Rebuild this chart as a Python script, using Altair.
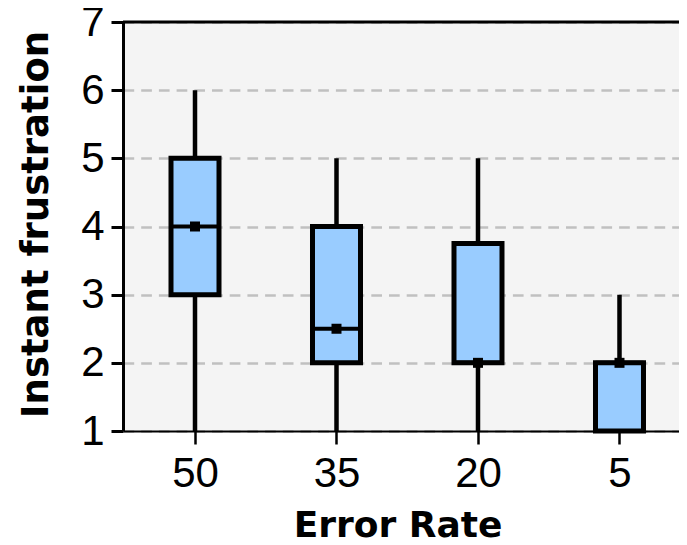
import altair as alt
import pandas as pd

rates = ["50", "35", "20", "5"]
low = [1, 1, 1, 1]
q1 = [3, 2, 2, 1]
median = [4, 2.5, 2, 2]
q3 = [5, 4, 3.75, 2]
high = [6, 5, 5, 3]
y_ticks = [1, 2, 3, 4, 5, 6, 7]

df = pd.DataFrame(dict(rate=rates, low=low, q1=q1, median=median, q3=q3, high=high))
top_df = pd.DataFrame({"top": [max(y_ticks)]})

LABEL_FONT = "Liberation Sans"
TITLE_FONT = "DejaVu Sans"

xscale = alt.Scale(type="point", padding=0.4647, align=0.5475)
yscale = alt.Scale(domain=[1, 7], nice=False, zero=False)

x_enc = alt.X(
    "rate:N", sort=rates, scale=xscale,
    axis=alt.Axis(
        title="Error Rate", labelAngle=0, labelFont=LABEL_FONT, labelFontSize=42,
        labelColor="black", labelPadding=9, tickSize=13, tickWidth=2.5,
        tickColor="black", domainColor="black", domainWidth=2, grid=False,
        titleFont=TITLE_FONT, titleFontWeight="bold", titleFontSize=36,
        titleColor="black", titleX=274.5, titleY=105, titleBaseline="alphabetic",
        titleAlign="center",
    ),
)

y_axis = alt.Axis(
    values=y_ticks, format="d", grid=True, gridDash=[10.7, 7], gridColor="#c0c0c0",
    gridWidth=2.5, domainColor="black", domainWidth=3, tickColor="black",
    tickWidth=3, tickSize=12, labelFont=LABEL_FONT, labelFontSize=42,
    labelColor="black", labelPadding=7,
    title="Instant frustration", titleFont=TITLE_FONT, titleFontWeight="bold",
    titleFontSize=37, titleColor="black", titleX=-76, titleY=202,
    titleBaseline="alphabetic", titleAlign="center",
)

base = alt.Chart(df).encode(x=x_enc)

whiskers = base.mark_rule(color="black", strokeWidth=4.5).encode(
    y=alt.Y("low:Q", scale=yscale, axis=y_axis), y2="high:Q"
)
boxes = base.mark_bar(size=48, fill="#99ccff", stroke="black", strokeWidth=5).encode(
    y=alt.Y("q1:Q", scale=yscale), y2="q3:Q"
)
med_line = base.mark_tick(size=48, thickness=4, color="black", opacity=1).encode(
    y=alt.Y("median:Q", scale=yscale)
)
med_sq = base.mark_square(size=100, color="black", opacity=1, filled=True).encode(
    y=alt.Y("median:Q", scale=yscale)
)
top_line = alt.Chart(top_df).mark_rule(color="black", strokeWidth=3).encode(
    y=alt.Y("top:Q", scale=yscale)
)

chart = (
    alt.layer(whiskers, boxes, med_line, med_sq, top_line)
    .properties(
        width=556, height=409, autosize="none",
        padding={"left": 115, "top": 14, "right": 0, "bottom": 110},
    )
    .configure_view(fill="#f4f4f4", stroke=None)
)

chart.save("out.html", embed_options={"renderer": "svg", "actions": False})
